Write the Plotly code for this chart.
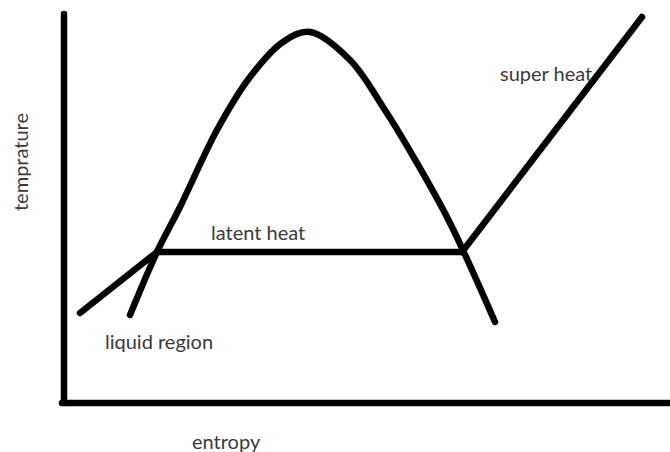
import plotly.graph_objects as go

# Saturation dome (entropy, temperature), arbitrary units
dome_s = [66, 93, 116, 153, 186, 219, 246, 286, 319, 353, 386, 431]
dome_T = [88, 151, 196, 273, 326, 361, 371, 343, 296, 240, 180, 81]

# Liquid region line
liq_s = [16, 93]
liq_T = [90, 151]

# Latent heat (constant temperature)
lat_s = [93, 398]
lat_T = [151, 151]

# Super heat line
sup_s = [398, 578]
sup_T = [151, 386]

# Axes lines
yaxis_s = [0, 0]
yaxis_T = [0, 389]
xaxis_s = [-2, 606]
xaxis_T = [0, 0]

labels = ["latent heat", "liquid region", "super heat", "entropy", "temprature"]
label_s = [194, 95, 482, 162, -44]
label_T = [171, 62, 330, -38, 241]

fig = go.Figure()
lw = 6.5
for xs, ys, shape in [(yaxis_s, yaxis_T, "linear"), (xaxis_s, xaxis_T, "linear"),
                      (dome_s, dome_T, "spline"), (liq_s, liq_T, "linear"),
                      (lat_s, lat_T, "linear"), (sup_s, sup_T, "linear")]:
    fig.add_trace(go.Scatter(x=xs, y=ys, mode="lines",
                             line=dict(color="black", width=lw, shape=shape, smoothing=1.0),
                             hoverinfo="skip", showlegend=False))

font = dict(family="Lato, Open Sans, sans-serif", size=20, color="#3a3a3a")
for i, t in enumerate(labels):
    fig.add_annotation(x=label_s[i], y=label_T[i], text=t, showarrow=False,
                       font=font, textangle=-90 if t == "temprature" else 0,
                       xanchor="center", yanchor="middle")

fig.update_layout(
    width=670, height=452,
    margin=dict(l=0, r=0, t=0, b=0),
    paper_bgcolor="white", plot_bgcolor="white",
    xaxis=dict(range=[-64, 606], visible=False, fixedrange=True),
    yaxis=dict(range=[-49, 403], visible=False, fixedrange=True),
)
fig.write_html("out.html", config={"displayModeBar": False},
               post_script="document.body.style.margin='0';document.body.style.overflow='hidden';"
                           "document.querySelectorAll('.scatterlayer path.js-line').forEach(function(p){p.style.strokeLinecap='round';p.style.strokeLinejoin='round';});")
